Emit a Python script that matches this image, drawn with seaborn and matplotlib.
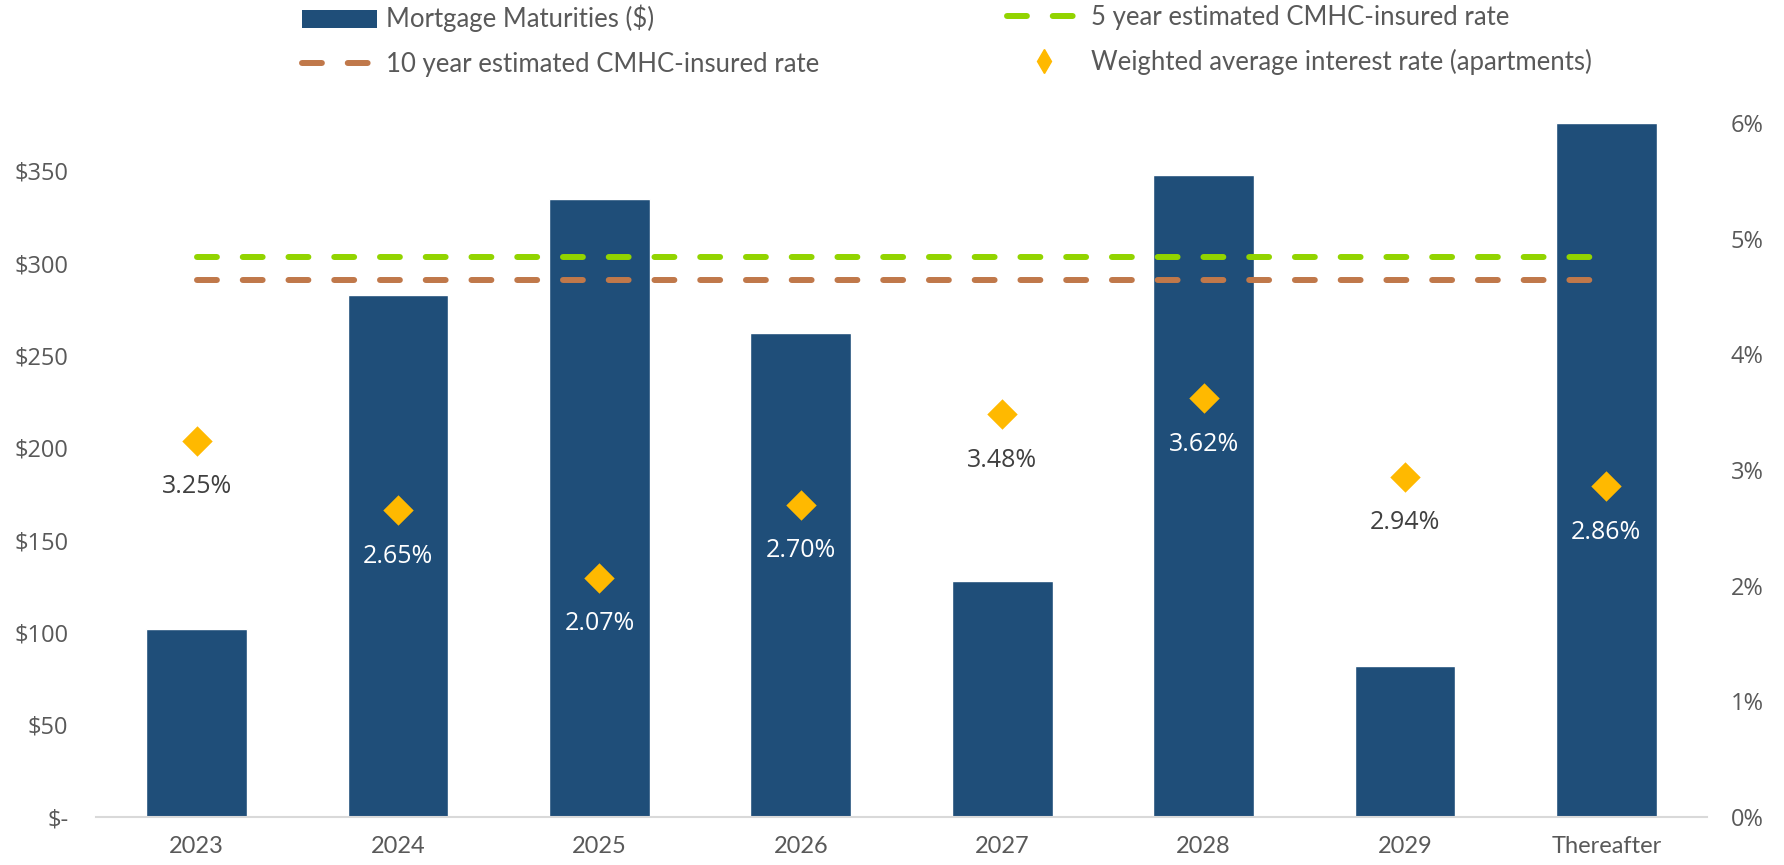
import numpy as np
import seaborn as sns
import matplotlib.pyplot as plt
from matplotlib.patches import Patch
from matplotlib.lines import Line2D
from matplotlib.ticker import FuncFormatter

# dados
years = ['2023', '2024', '2025', '2026', '2027', '2028', '2029', 'Thereafter']
maturities = [102, 283, 335, 262, 128, 348, 82, 376]
wavg_rate = [3.25, 2.65, 2.07, 2.70, 3.48, 3.62, 2.94, 2.86]
rate_5yr = [4.84, 4.84, 4.84, 4.84, 4.84, 4.84, 4.84, 4.84]
rate_10yr = [4.64, 4.64, 4.64, 4.64, 4.64, 4.64, 4.64, 4.64]

navy = '#1F4E79'
green = '#92D400'
brown = '#C0784A'
gold = '#FFB900'
grey_txt = '#595959'

sns.set_theme(style='white')
plt.rcParams['font.family'] = ['Open Sans', 'DejaVu Sans']

fig = plt.figure(figsize=(17.84, 8.65), dpi=100)
ax = fig.add_axes([96 / 1784, 1 - 817 / 865, (1707 - 96) / 1784, (817 - 123) / 865])
ax2 = ax.twinx()

pos = np.arange(len(years))

# barras
sns.barplot(x=years, y=maturities, color=navy, saturation=1, width=0.5, ax=ax)

# linhas tracejadas
dash = (0, (3.33, 4.33))
sns.lineplot(x=pos, y=rate_5yr, ax=ax2, color=green, linewidth=4.3,
             linestyle=dash, dash_capstyle='round')
sns.lineplot(x=pos, y=rate_10yr, ax=ax2, color=brown, linewidth=4.3,
             linestyle=dash, dash_capstyle='round')

# diamantes
sns.scatterplot(x=pos, y=wavg_rate, ax=ax2, marker='D', s=240, color=gold,
                linewidth=0, zorder=5)

ax.set_ylim(0, 376)
ax2.set_ylim(0, 6)
ax.set_xlim(-0.5, 7.5)

# rotulos
for i, v in enumerate(wavg_rate):
    bar_pct = maturities[i] / 376 * 6
    c = 'white' if v - 0.45 < bar_pct else '#404040'
    ax2.annotate(f'{v:.2f}%', (i, v), xytext=(0, -33), textcoords='offset points',
                 ha='center', va='center', fontsize=18, color=c)

ax.set_yticks(np.arange(0, 351, 50))
ax.yaxis.set_major_formatter(FuncFormatter(lambda v, p: '$-' if v == 0 else f'${v:.0f}'))
ax2.set_yticks(np.arange(0, 7, 1))
ax2.yaxis.set_major_formatter(FuncFormatter(lambda v, p: f'{v:.0f}%'))

ax.set_xlabel('')
ax.set_ylabel('')
ax2.set_xlabel('')
ax2.set_ylabel('')

for a in (ax, ax2):
    for s in ['top', 'left', 'right', 'bottom']:
        a.spines[s].set_visible(False)
ax.spines['bottom'].set_visible(True)
ax.spines['bottom'].set_color('#D9D9D9')
ax.spines['bottom'].set_linewidth(1.5)

ax.tick_params(axis='y', length=0, pad=20, labelsize=17, labelcolor=grey_txt)
ax2.tick_params(axis='y', length=0, pad=17, labelsize=17, labelcolor=grey_txt)
ax.tick_params(axis='x', length=0, pad=14, labelsize=17, labelcolor=grey_txt)
for t in ax.get_xticklabels():
    t.set_fontfamily(['Lato', 'DejaVu Sans'])

# legenda
h_bar = Patch(facecolor=navy, edgecolor='none')
h_5 = Line2D([], [], color=green, linewidth=4.3, linestyle=dash, dash_capstyle='round')
h_10 = Line2D([], [], color=brown, linewidth=4.3, linestyle=dash, dash_capstyle='round')
h_d = Line2D([], [], color=gold, marker='d', markersize=12, linestyle='none')

leg_kw = dict(frameon=False, loc='upper left', borderpad=0, borderaxespad=0,
              handlelength=2.9, handletextpad=0.35, labelspacing=0.75,
              prop={'family': ['Lato', 'DejaVu Sans'], 'size': 18.5}, labelcolor=grey_txt)
fig.legend([h_bar, h_10], ['Mortgage Maturities ($)', '10 year estimated CMHC-insured rate'],
           bbox_to_anchor=(302 / 1784, 1 - 5 / 865), **leg_kw)
fig.legend([h_5, h_d], ['5 year estimated CMHC-insured rate', 'Weighted average interest rate (apartments)'],
           bbox_to_anchor=(1007 / 1784, 1 - 5 / 865), **leg_kw)

plt.savefig('out.png', dpi=100)
